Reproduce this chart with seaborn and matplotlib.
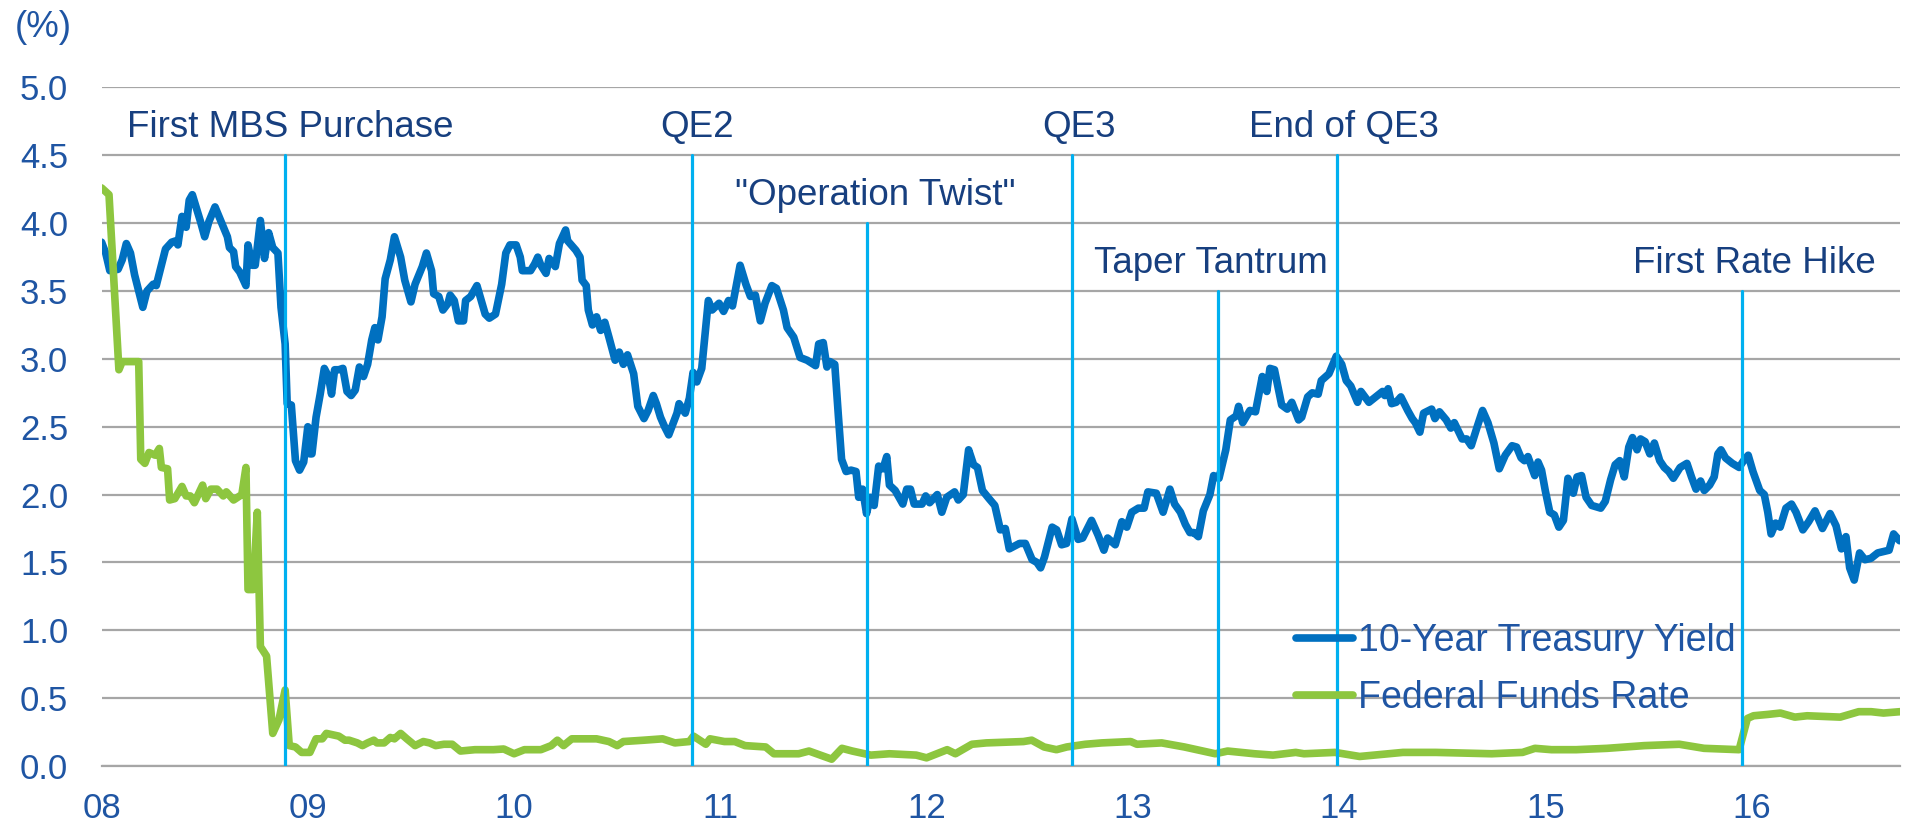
import matplotlib
matplotlib.use("Agg")
import matplotlib.pyplot as plt
import seaborn as sns

# 10-year treasury yield (%); x in decimal years
t10_year = [
    2008.00, 2008.02, 2008.04, 2008.08, 2008.10, 2008.12, 2008.14, 2008.16, 2008.18, 2008.20,
    2008.22, 2008.25, 2008.265, 2008.29, 2008.31, 2008.34, 2008.36, 2008.37, 2008.39, 2008.41,
    2008.425, 2008.44, 2008.48, 2008.50, 2008.52, 2008.55, 2008.58, 2008.61, 2008.62, 2008.64,
    2008.65, 2008.67, 2008.70, 2008.71, 2008.73, 2008.745, 2008.77, 2008.79, 2008.81, 2008.83,
    2008.855, 2008.87, 2008.89, 2008.90, 2008.92, 2008.94, 2008.96, 2008.98, 2009.00, 2009.01,
    2009.02, 2009.04, 2009.06, 2009.08, 2009.10, 2009.115, 2009.13, 2009.15, 2009.17, 2009.19,
    2009.21, 2009.23, 2009.25, 2009.27, 2009.29, 2009.31, 2009.325, 2009.34, 2009.36, 2009.375,
    2009.40, 2009.42, 2009.45, 2009.47, 2009.50, 2009.52, 2009.555, 2009.575, 2009.60, 2009.61,
    2009.635, 2009.655, 2009.68, 2009.69, 2009.71, 2009.73, 2009.755, 2009.765, 2009.79, 2009.82,
    2009.86, 2009.88, 2009.91, 2009.94, 2009.96, 2009.98, 2010.01, 2010.03, 2010.04, 2010.08,
    2010.10, 2010.115, 2010.13, 2010.155, 2010.17, 2010.20, 2010.22, 2010.25, 2010.26, 2010.30,
    2010.32, 2010.33, 2010.35, 2010.36, 2010.38, 2010.40, 2010.42, 2010.44, 2010.46, 2010.49,
    2010.51, 2010.53, 2010.55, 2010.58, 2010.60, 2010.63, 2010.65, 2010.675, 2010.69, 2010.71,
    2010.73, 2010.75, 2010.77, 2010.79, 2010.80, 2010.83, 2010.85, 2010.868, 2010.886, 2010.91,
    2010.942, 2010.96, 2010.994, 2011.016, 2011.04, 2011.059, 2011.096, 2011.124, 2011.146, 2011.17,
    2011.194, 2011.217, 2011.25, 2011.272, 2011.306, 2011.324, 2011.356, 2011.387, 2011.421, 2011.462,
    2011.477, 2011.499, 2011.517, 2011.532, 2011.555, 2011.573, 2011.588, 2011.61, 2011.634, 2011.658,
    2011.671, 2011.69, 2011.709, 2011.727, 2011.746, 2011.768, 2011.789, 2011.807, 2011.82, 2011.848,
    2011.885, 2011.904, 2011.922, 2011.94, 2011.978, 2011.996, 2012.015, 2012.052, 2012.074, 2012.098,
    2012.136, 2012.154, 2012.178, 2012.204, 2012.228, 2012.247, 2012.271, 2012.303, 2012.331, 2012.358,
    2012.382, 2012.401, 2012.451, 2012.479, 2012.512, 2012.535, 2012.553, 2012.572, 2012.609, 2012.631,
    2012.655, 2012.679, 2012.705, 2012.735, 2012.757, 2012.80, 2012.832, 2012.86, 2012.878, 2012.915,
    2012.947, 2012.971, 2012.995, 2013.027, 2013.055, 2013.073, 2013.114, 2013.147, 2013.18, 2013.203,
    2013.231, 2013.255, 2013.277, 2013.296, 2013.318, 2013.342, 2013.374, 2013.392, 2013.418, 2013.451,
    2013.473, 2013.502, 2013.513, 2013.533, 2013.568, 2013.595, 2013.628, 2013.65, 2013.665, 2013.687,
    2013.722, 2013.749, 2013.771, 2013.804, 2013.819, 2013.848, 2013.87, 2013.899, 2013.914, 2013.951,
    2013.987, 2014.013, 2014.035, 2014.057, 2014.09, 2014.106, 2014.145, 2014.178, 2014.211, 2014.222,
    2014.238, 2014.255, 2014.277, 2014.30, 2014.333, 2014.355, 2014.37, 2014.392, 2014.41, 2014.449,
    2014.465, 2014.487, 2014.52, 2014.542, 2014.559, 2014.597, 2014.619, 2014.641, 2014.67, 2014.696,
    2014.722, 2014.751, 2014.777, 2014.806, 2014.839, 2014.861, 2014.883, 2014.899, 2014.916, 2014.949,
    2014.965, 2014.982, 2015.00, 2015.022, 2015.044, 2015.066, 2015.088, 2015.11, 2015.136, 2015.154,
    2015.176, 2015.198, 2015.225, 2015.247, 2015.269, 2015.291, 2015.317, 2015.339, 2015.361, 2015.383,
    2015.405, 2015.423, 2015.445, 2015.462, 2015.484, 2015.507, 2015.529, 2015.555, 2015.577, 2015.599,
    2015.621, 2015.654, 2015.687, 2015.709, 2015.731, 2015.753, 2015.771, 2015.797, 2015.819, 2015.837,
    2015.852, 2015.874, 2015.907, 2015.94, 2015.962, 2015.984, 2016.007, 2016.04, 2016.062, 2016.079,
    2016.095, 2016.117, 2016.139, 2016.167, 2016.194, 2016.216, 2016.249, 2016.277, 2016.308, 2016.344,
    2016.381, 2016.41, 2016.436, 2016.458, 2016.476, 2016.498, 2016.524, 2016.55, 2016.579, 2016.612,
    2016.667, 2016.689, 2016.718,
]
t10_yield = [
    3.86, 3.78, 3.65, 3.66, 3.73, 3.85, 3.78, 3.62, 3.50, 3.38,
    3.50, 3.55, 3.54, 3.69, 3.81, 3.86, 3.87, 3.84, 4.05, 3.97,
    4.17, 4.21, 4.01, 3.90, 4.01, 4.12, 4.01, 3.90, 3.82, 3.79,
    3.68, 3.64, 3.54, 3.84, 3.69, 3.69, 4.02, 3.74, 3.93, 3.82,
    3.78, 3.38, 3.11, 2.67, 2.66, 2.25, 2.18, 2.24, 2.50, 2.30,
    2.30, 2.57, 2.74, 2.93, 2.87, 2.74, 2.92, 2.92, 2.93, 2.76,
    2.73, 2.77, 2.94, 2.87, 2.96, 3.14, 3.23, 3.14, 3.31, 3.59,
    3.73, 3.90, 3.75, 3.58, 3.42, 3.55, 3.68, 3.78, 3.65, 3.48,
    3.46, 3.36, 3.41, 3.47, 3.43, 3.28, 3.28, 3.43, 3.46, 3.54,
    3.33, 3.30, 3.33, 3.55, 3.78, 3.84, 3.84, 3.75, 3.65, 3.65,
    3.70, 3.75, 3.69, 3.63, 3.74, 3.68, 3.85, 3.95, 3.87, 3.80,
    3.75, 3.58, 3.54, 3.36, 3.25, 3.31, 3.21, 3.27, 3.16, 2.99,
    3.05, 2.96, 3.03, 2.89, 2.65, 2.56, 2.62, 2.73, 2.67, 2.57,
    2.50, 2.44, 2.52, 2.60, 2.67, 2.60, 2.71, 2.90, 2.83, 2.93,
    3.43, 3.36, 3.41, 3.35, 3.43, 3.39, 3.69, 3.55, 3.46, 3.47,
    3.28, 3.41, 3.54, 3.52, 3.36, 3.23, 3.16, 3.01, 2.99, 2.95,
    3.11, 3.12, 2.94, 2.98, 2.96, 2.57, 2.26, 2.17, 2.18, 2.17,
    1.98, 2.04, 1.86, 1.98, 1.92, 2.21, 2.19, 2.28, 2.07, 2.03,
    1.93, 2.04, 2.04, 1.93, 1.93, 1.99, 1.94, 2.00, 1.87, 1.98,
    2.02, 1.96, 2.00, 2.33, 2.22, 2.20, 2.03, 1.97, 1.92, 1.74,
    1.75, 1.60, 1.64, 1.64, 1.52, 1.50, 1.46, 1.54, 1.76, 1.74,
    1.63, 1.64, 1.82, 1.67, 1.68, 1.81, 1.70, 1.59, 1.68, 1.63,
    1.80, 1.76, 1.87, 1.90, 1.90, 2.02, 2.01, 1.87, 2.04, 1.93,
    1.87, 1.78, 1.72, 1.72, 1.69, 1.88, 2.00, 2.14, 2.12, 2.33,
    2.55, 2.58, 2.65, 2.53, 2.62, 2.61, 2.87, 2.76, 2.93, 2.92,
    2.66, 2.63, 2.68, 2.55, 2.57, 2.72, 2.75, 2.74, 2.84, 2.89,
    3.02, 2.96, 2.84, 2.80, 2.68, 2.76, 2.68, 2.72, 2.76, 2.73,
    2.78, 2.67, 2.68, 2.72, 2.62, 2.56, 2.53, 2.46, 2.60, 2.63,
    2.56, 2.61, 2.55, 2.49, 2.53, 2.41, 2.41, 2.36, 2.50, 2.62,
    2.53, 2.38, 2.19, 2.29, 2.36, 2.35, 2.27, 2.25, 2.28, 2.14,
    2.24, 2.18, 2.03, 1.87, 1.85, 1.76, 1.81, 2.12, 2.01, 2.13,
    2.14, 1.98, 1.92, 1.91, 1.90, 1.95, 2.11, 2.22, 2.25, 2.13,
    2.35, 2.42, 2.33, 2.41, 2.39, 2.30, 2.38, 2.25, 2.20, 2.17,
    2.12, 2.20, 2.23, 2.13, 2.04, 2.10, 2.03, 2.07, 2.13, 2.30,
    2.33, 2.27, 2.23, 2.20, 2.25, 2.29, 2.17, 2.03, 2.00, 1.87,
    1.71, 1.79, 1.76, 1.90, 1.93, 1.87, 1.74, 1.80, 1.88, 1.75,
    1.86, 1.77, 1.60, 1.69, 1.46, 1.37, 1.57, 1.52, 1.53, 1.57,
    1.59, 1.71, 1.66,
]

# effective federal funds rate (%)
ff_year = [
    2008.00, 2008.036, 2008.084, 2008.10, 2008.18, 2008.19, 2008.21, 2008.23, 2008.26, 2008.28,
    2008.29, 2008.32, 2008.33, 2008.355, 2008.39, 2008.41, 2008.43, 2008.45, 2008.49, 2008.505,
    2008.53, 2008.56, 2008.59, 2008.605, 2008.64, 2008.68, 2008.70, 2008.71, 2008.735, 2008.755,
    2008.77, 2008.80, 2008.83, 2008.86, 2008.89, 2008.91, 2008.94, 2008.97, 2009.01, 2009.04,
    2009.07, 2009.09, 2009.15, 2009.18, 2009.20, 2009.24, 2009.265, 2009.29, 2009.32, 2009.335,
    2009.37, 2009.40, 2009.42, 2009.45, 2009.48, 2009.52, 2009.56, 2009.59, 2009.62, 2009.66,
    2009.70, 2009.74, 2009.81, 2009.90, 2009.95, 2010.00, 2010.05, 2010.13, 2010.18, 2010.21,
    2010.24, 2010.28, 2010.40, 2010.46, 2010.50, 2010.53, 2010.63, 2010.72, 2010.78, 2010.85,
    2010.87, 2010.93, 2010.95, 2011.02, 2011.07, 2011.12, 2011.22, 2011.26, 2011.38, 2011.43,
    2011.54, 2011.59, 2011.64, 2011.73, 2011.82, 2011.95, 2012.00, 2012.10, 2012.14, 2012.22,
    2012.29, 2012.47, 2012.51, 2012.57, 2012.63, 2012.68, 2012.77, 2012.85, 2012.99, 2013.02,
    2013.14, 2013.25, 2013.40, 2013.46, 2013.59, 2013.68, 2013.79, 2013.83, 2013.98, 2014.10,
    2014.31, 2014.47, 2014.74, 2014.89, 2014.95, 2015.03, 2015.15, 2015.30, 2015.48, 2015.65,
    2015.77, 2015.94, 2015.98, 2016.01, 2016.08, 2016.14, 2016.21, 2016.27, 2016.43, 2016.52,
    2016.58, 2016.64, 2016.72,
]
ff_rate = [
    4.26, 4.21, 2.92, 2.98, 2.98, 2.26, 2.23, 2.31, 2.29, 2.34,
    2.20, 2.19, 1.96, 1.97, 2.06, 1.99, 1.99, 1.94, 2.07, 1.97,
    2.04, 2.04, 1.99, 2.02, 1.96, 2.00, 2.20, 1.30, 1.30, 1.87,
    0.88, 0.81, 0.24, 0.34, 0.56, 0.15, 0.14, 0.10, 0.10, 0.20,
    0.20, 0.24, 0.22, 0.19, 0.19, 0.17, 0.15, 0.17, 0.19, 0.17,
    0.17, 0.21, 0.20, 0.24, 0.20, 0.15, 0.18, 0.17, 0.15, 0.16,
    0.16, 0.11, 0.12, 0.12, 0.125, 0.09, 0.12, 0.12, 0.15, 0.19,
    0.15, 0.20, 0.20, 0.18, 0.15, 0.18, 0.19, 0.20, 0.17, 0.18,
    0.22, 0.16, 0.20, 0.18, 0.18, 0.15, 0.14, 0.09, 0.09, 0.11,
    0.05, 0.13, 0.11, 0.08, 0.09, 0.08, 0.06, 0.12, 0.09, 0.16,
    0.17, 0.18, 0.19, 0.14, 0.12, 0.14, 0.16, 0.17, 0.18, 0.16,
    0.17, 0.14, 0.09, 0.11, 0.09, 0.08, 0.10, 0.09, 0.10, 0.07,
    0.10, 0.10, 0.09, 0.10, 0.13, 0.12, 0.12, 0.13, 0.15, 0.16,
    0.13, 0.12, 0.35, 0.37, 0.38, 0.39, 0.36, 0.37, 0.36, 0.40,
    0.40, 0.39, 0.40,
]

# policy events: date, label, top of marker line, label position
event_year = [2008.89, 2010.862, 2011.71, 2012.705, 2013.414, 2013.99, 2015.955]
event_label = ["First MBS Purchase", "QE2", '"Operation Twist"', "QE3",
               "Taper Tantrum", "End of QE3", "First Rate Hike"]
event_top = [4.5, 4.5, 4.0, 4.5, 3.5, 4.5, 3.5]
label_x = [2008.917, 2010.888, 2011.751, 2012.74, 2013.379, 2014.024, 2016.012]
label_y = [4.705, 4.705, 4.205, 4.705, 3.705, 4.705, 3.705]

year_ticks = [2008, 2009, 2010, 2011, 2012, 2013, 2014, 2015, 2016]
year_labels = ["08", "09", "10", "11", "12", "13", "14", "15", "16"]
y_ticks = [0.0, 0.5, 1.0, 1.5, 2.0, 2.5, 3.0, 3.5, 4.0, 4.5, 5.0]

NAVY = "#173F7F"
TICK_BLUE = "#1F55A3"
GRID = "#A6A6A6"

sns.set_style("white")
plt.rcParams["font.family"] = ["Liberation Sans", "DejaVu Sans"]

fig = plt.figure(figsize=(19.13, 8.27), dpi=100)
ax = fig.add_axes([0.0531, 0.0738, 0.9401, 0.8204])

sns.lineplot(x=t10_year, y=t10_yield, ax=ax, color="#0070C0", linewidth=5.5,
             label="10-Year Treasury Yield", zorder=3)
sns.lineplot(x=ff_year, y=ff_rate, ax=ax, color="#8DC63F", linewidth=5.5,
             label="Federal Funds Rate", zorder=3)

for x, top in zip(event_year, event_top):
    ax.plot([x, x], [0, top], color="#00B0F0", linewidth=2.3, zorder=4)
for x, y, txt in zip(label_x, label_y, event_label):
    ax.text(x, y, txt, ha="center", va="center", fontsize=26.5, color=NAVY)

ax.set_xlim(2008, 2016.72)
ax.set_ylim(0, 5.0)
ax.set_xticks(year_ticks)
ax.set_xticklabels(year_labels)
ax.set_yticks(y_ticks)
ax.set_yticklabels([f"{v:.1f}" for v in y_ticks])
ax.tick_params(axis="x", direction="in", length=8, width=1.6, color=GRID,
               labelsize=25, labelcolor=TICK_BLUE, pad=19)
ax.tick_params(axis="y", length=0, labelsize=25, labelcolor=TICK_BLUE, pad=24)
ax.yaxis.grid(True, color=GRID, linewidth=1.6)
ax.set_axisbelow(True)
for side in ["top", "right", "left"]:
    ax.spines[side].set_visible(False)
ax.spines["bottom"].set_color(GRID)
ax.spines["bottom"].set_linewidth(1.6)
ax.set_xlabel("")
ax.set_ylabel("")

leg = ax.legend(loc="upper left", bbox_to_anchor=(0.664, 0.211), frameon=False,
                fontsize=27, handlelength=1.52, handletextpad=0.13,
                labelspacing=0.57, borderpad=0, borderaxespad=0)
for t in leg.get_texts():
    t.set_color(TICK_BLUE)

fig.text(15 / 1913, 1 - 27.5 / 827, "(%)", fontsize=26.5, color=TICK_BLUE,
         ha="left", va="center")

fig.savefig("out.png", dpi=100)
